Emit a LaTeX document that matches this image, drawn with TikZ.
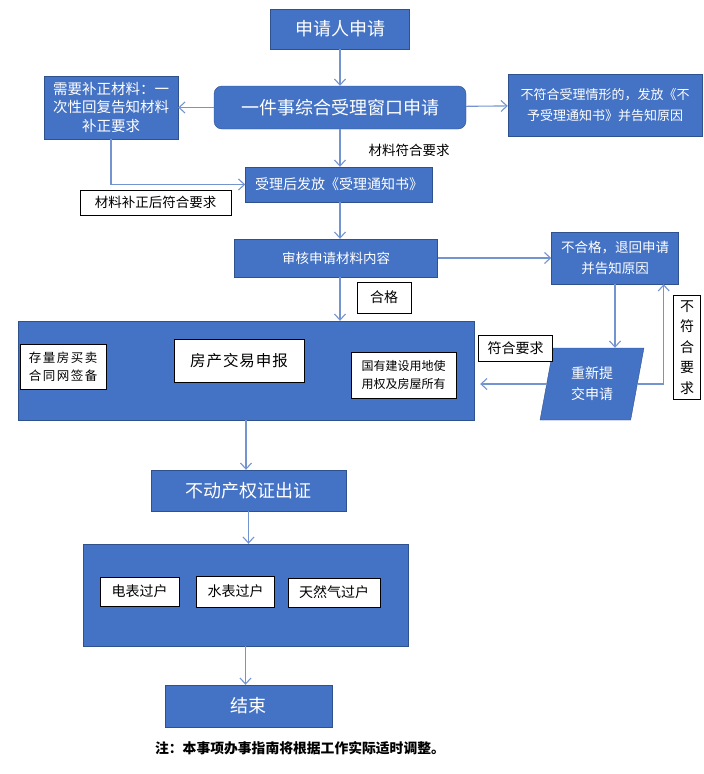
\documentclass[tikz,border=0pt]{standalone}
\usepackage{fontspec}
\setmainfont{Noto Sans CJK SC}
\newfontfamily\spacedcjk[LetterSpace=12]{Noto Sans CJK SC}
\newfontfamily\widecjk[LetterSpace=6]{Noto Sans CJK SC}
\usetikzlibrary{arrows.meta,shapes.geometric}
\definecolor{boxblue}{RGB}{68,114,196}
\definecolor{edgeblue}{RGB}{47,82,143}
\definecolor{linkblue}{RGB}{116,148,208}
\newcommand{\fs}[2]{\fontsize{#1pt}{#2pt}\selectfont}

\begin{document}
\begin{tikzpicture}[x=1pt,y=-1pt,
  blueblock/.style={draw=edgeblue,fill=boxblue,text=white,inner sep=0pt,align=center},
  labelbox/.style={draw=black,fill=white,inner sep=0pt,align=center,font=\fs{13.5}{17}},
  flow/.style={-{Straight Barb[length=6pt,width=11pt]},linkblue,line width=1.1pt}]
\useasboundingbox[fill=white] (0,0) rectangle (704,774);
% ---- application and window ----
\node[blueblock,minimum width=139pt,minimum height=40pt,font=\fs{18}{22}] (appl) at (340,29) {申请人申请};
\node[blueblock,rounded corners=8pt,minimum width=252pt,minimum height=43pt,font=\fs{18}{22}] (window) at (340,107.5) {一件事综合受理窗口申请};
\node[blueblock,minimum width=134pt,minimum height=63pt,font=\fs{14.5}{18.5}] (supp) at (111,107.5) {需要补正材料：一\\次性回复告知材料\\补正要求};
\node[blueblock,minimum width=194pt,minimum height=62pt,font=\fs{13}{20.5}] (reject) at (605,105) {不符合受理情形的，发放《不\\予受理通知书》并告知原因};
\node[font=\fs{13.5}{17}] (okmat) at (409,150) {材料符合要求};
\node[blueblock,minimum width=187pt,minimum height=35pt,font=\fs{14}{18}] (accept) at (339,184.5) {受理后发放《受理通知书》};
\node[labelbox,minimum width=151pt,minimum height=25pt] (fixlab) at (155.5,202.5) {材料补正后符合要求};
% ---- review ----
\node[blueblock,minimum width=203pt,minimum height=38pt,font=\fs{13.5}{18}] (review) at (336,258) {审核申请材料内容};
\node[blueblock,minimum width=127pt,minimum height=52pt,font=\fs{13.5}{21}] (fail) at (615,258) {不合格，退回申请\\并告知原因};
\node[labelbox,minimum width=54pt,minimum height=31pt,font=\fs{14}{17}] (passlab) at (384,297.5) {合格};
% ---- housing transaction ----
\node[blueblock,minimum width=456pt,minimum height=99pt] (trade) at (246,370.5) {};
\node[labelbox,minimum width=86pt,minimum height=45pt,font=\spacedcjk\fs{12.5}{18}] (sign) at (63,366.5) {存量房买卖\\合同网签备};
\node[labelbox,minimum width=130pt,minimum height=43pt,font=\widecjk\fs{15.5}{19}] (report) at (239,361) {房产交易申报};
\node[labelbox,minimum width=105pt,minimum height=46pt,font=\fs{12}{18.5}] (owner) at (403.5,375) {国有建设用地使\\用权及房屋所有};
\node[blueblock,trapezium,trapezium stretches=true,trapezium left angle=78,trapezium right angle=102,minimum width=104pt,minimum height=72pt,font=\fs{14}{21}] (resub) at (592,384) {重新提\\交申请};
\node[labelbox,minimum width=74pt,minimum height=26pt,font=\fs{14}{17}] (meetlab) at (515.5,348) {符合要求};
\node[labelbox,minimum width=27pt,minimum height=104pt,font=\fs{14}{20.5}] (notmeet) at (687,347.5) {不\\符\\合\\要\\求};
% ---- certificate and utilities ----
\node[blueblock,minimum width=195pt,minimum height=41pt,font=\fs{18}{22}] (cert) at (248.5,490.5) {不动产权证出证};
\node[blueblock,minimum width=325pt,minimum height=102pt] (util) at (245.5,595) {};
\node[labelbox,minimum width=79pt,minimum height=29pt,font=\fs{14}{17}] (elec) at (139.5,591.5) {电表过户};
\node[labelbox,minimum width=78pt,minimum height=31pt,font=\fs{14}{17}] (water) at (235.5,591.5) {水表过户};
\node[labelbox,minimum width=92pt,minimum height=29pt,font=\fs{14}{17}] (gas) at (334,592.5) {天然气过户};
\node[blueblock,minimum width=167pt,minimum height=42pt,font=\fs{18}{22}] (endn) at (248.5,706) {结束};
\node[font=\bfseries\fs{13.8}{18}] (note) at (300,748) {注：本事项办事指南将根据工作实际适时调整。};
% ---- connectors ----
\draw[flow] (appl) -- (window);
\draw[flow] (window) -- (supp);
\draw[flow] (window) -- (reject);
\draw[flow] (window.south) -- (window.south |- accept.north);
\draw[flow] (supp.south) |- (accept.west);
\draw[flow] ([xshift=1pt]accept.south) -- ([xshift=1pt]accept.south |- review.north);
\draw[flow] (review) -- (fail);
\draw[flow] ([xshift=4pt]review.south) -- ([xshift=4pt]review.south |- trade.north);
\draw[flow] (fail.south) -- (fail.south |- resub.north);
\draw[flow] (resub.east) -| ([xshift=-15pt]fail.south east);
\draw[flow] (resub.west) -- ([xshift=6pt]resub.west -| trade.east);
\draw[flow] (trade.south) -- (trade.south |- cert.north);
\draw[flow] (cert.south) -- (cert.south |- util.north);
\draw[flow] (util.south) -- (util.south |- endn.north);
\end{tikzpicture}
\end{document}
